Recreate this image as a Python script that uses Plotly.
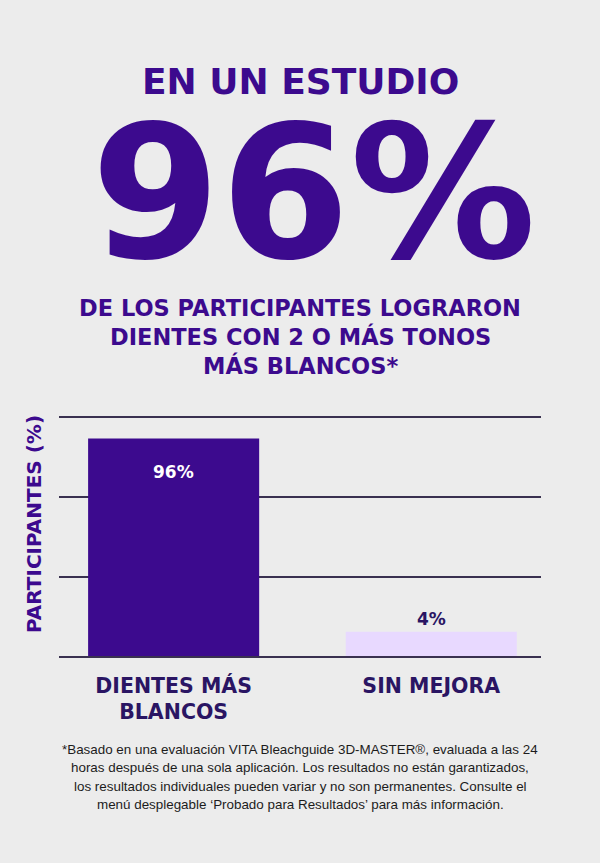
import plotly.graph_objects as go

categories = ["DIENTES MÁS<br>BLANCOS", "SIN MEJORA"]
# the small bar is drawn taller than its 4% label in the original graphic
bar_heights = [96, 10.7]
bar_labels = ["96%", "4%"]
grid_values = [0, 35, 70, 105]

headline = "EN UN ESTUDIO"
big_number = "96%"
subtitle_lines = ["DE LOS PARTICIPANTES LOGRARON",
                  "DIENTES CON 2 O MÁS TONOS",
                  "MÁS BLANCOS*"]
footnote_lines = ["*Basado en una evaluación VITA Bleachguide 3D-MASTER®, evaluada a las 24",
                  "horas después de una sola aplicación. Los resultados no están garantizados,",
                  "los resultados individuales pueden variar y no son permanentes. Consulte el",
                  "menú desplegable ‘Probado para Resultados’ para más información."]

WIDTH, HEIGHT = 600, 863
PLOT_LEFT, PLOT_RIGHT, PLOT_TOP, PLOT_BOTTOM = 59, 541, 418, 656

PURPLE = "#3c0a8e"
LAVENDER = "#e8d9ff"
DARK = "#2a1563"
GRID = "#3a3150"
BG = "#ececec"
HEAD_FONT = "DejaVu Sans"


def px_x(x):
    return (x - PLOT_LEFT) / (PLOT_RIGHT - PLOT_LEFT)


def px_y(y):
    return (PLOT_BOTTOM - y) / (PLOT_BOTTOM - PLOT_TOP)


fig = go.Figure()
fig.add_trace(go.Bar(x=[0, 1], y=bar_heights, width=0.664,
                     marker=dict(color=[PURPLE, LAVENDER], line=dict(width=0)),
                     hoverinfo="skip"))

annotations = []


def add_text(text, x, y, size, color=PURPLE, family=HEAD_FONT, weight="bold", **kw):
    annotations.append(dict(text=text, x=px_x(x), y=px_y(y), xref="paper", yref="paper",
                            showarrow=False, xanchor="center", yanchor="middle",
                            font=dict(family=family, size=size, color=color, weight=weight), **kw))


add_text(headline, 300, 81, 36)
add_text(big_number, 313, 192, 186)
for i, line in enumerate(subtitle_lines):
    add_text(line, 300, 308 + i * 28.5, 22.5)
add_text("PARTICIPANTES (%)", 34, 524, 20, textangle=-90)
for i, line in enumerate(footnote_lines):
    add_text(line, 300, 749 + i * 18.6, 13.4, color="#1c1c1c",
             family="Liberation Sans, Arial, sans-serif", weight="normal")

# value labels placed through the data scale
annotations.append(dict(text=bar_labels[0], x=0, y=bar_heights[0], xref="x", yref="y",
                        showarrow=False, yanchor="middle", yshift=-34,
                        font=dict(family=HEAD_FONT, size=17, color="white", weight="bold")))
annotations.append(dict(text=bar_labels[1], x=1, y=bar_heights[1], xref="x", yref="y",
                        showarrow=False, yanchor="middle", yshift=13,
                        font=dict(family=HEAD_FONT, size=17, color=DARK, weight="bold")))

fig.update_layout(
    width=WIDTH, height=HEIGHT,
    margin=dict(l=PLOT_LEFT, r=WIDTH - PLOT_RIGHT, t=PLOT_TOP, b=HEIGHT - PLOT_BOTTOM, pad=0),
    paper_bgcolor=BG, plot_bgcolor=BG,
    showlegend=False,
    annotations=annotations,
    xaxis=dict(range=[-0.445, 1.426], tickvals=[0, 1], ticktext=categories,
               showgrid=False, zeroline=False, ticks="",
               showline=True, linecolor=GRID, linewidth=2, mirror=True,
               ticklabelstandoff=10,
               tickfont=dict(family=HEAD_FONT, size=20.5, color=DARK, weight="bold")),
    yaxis=dict(range=[0, 105], tickvals=grid_values, showticklabels=False,
               showgrid=True, gridcolor=GRID, gridwidth=2, zeroline=False, showline=False),
)

fig.write_html("out.html", config={"displayModeBar": False},
               post_script="document.body.style.margin = '0';")
